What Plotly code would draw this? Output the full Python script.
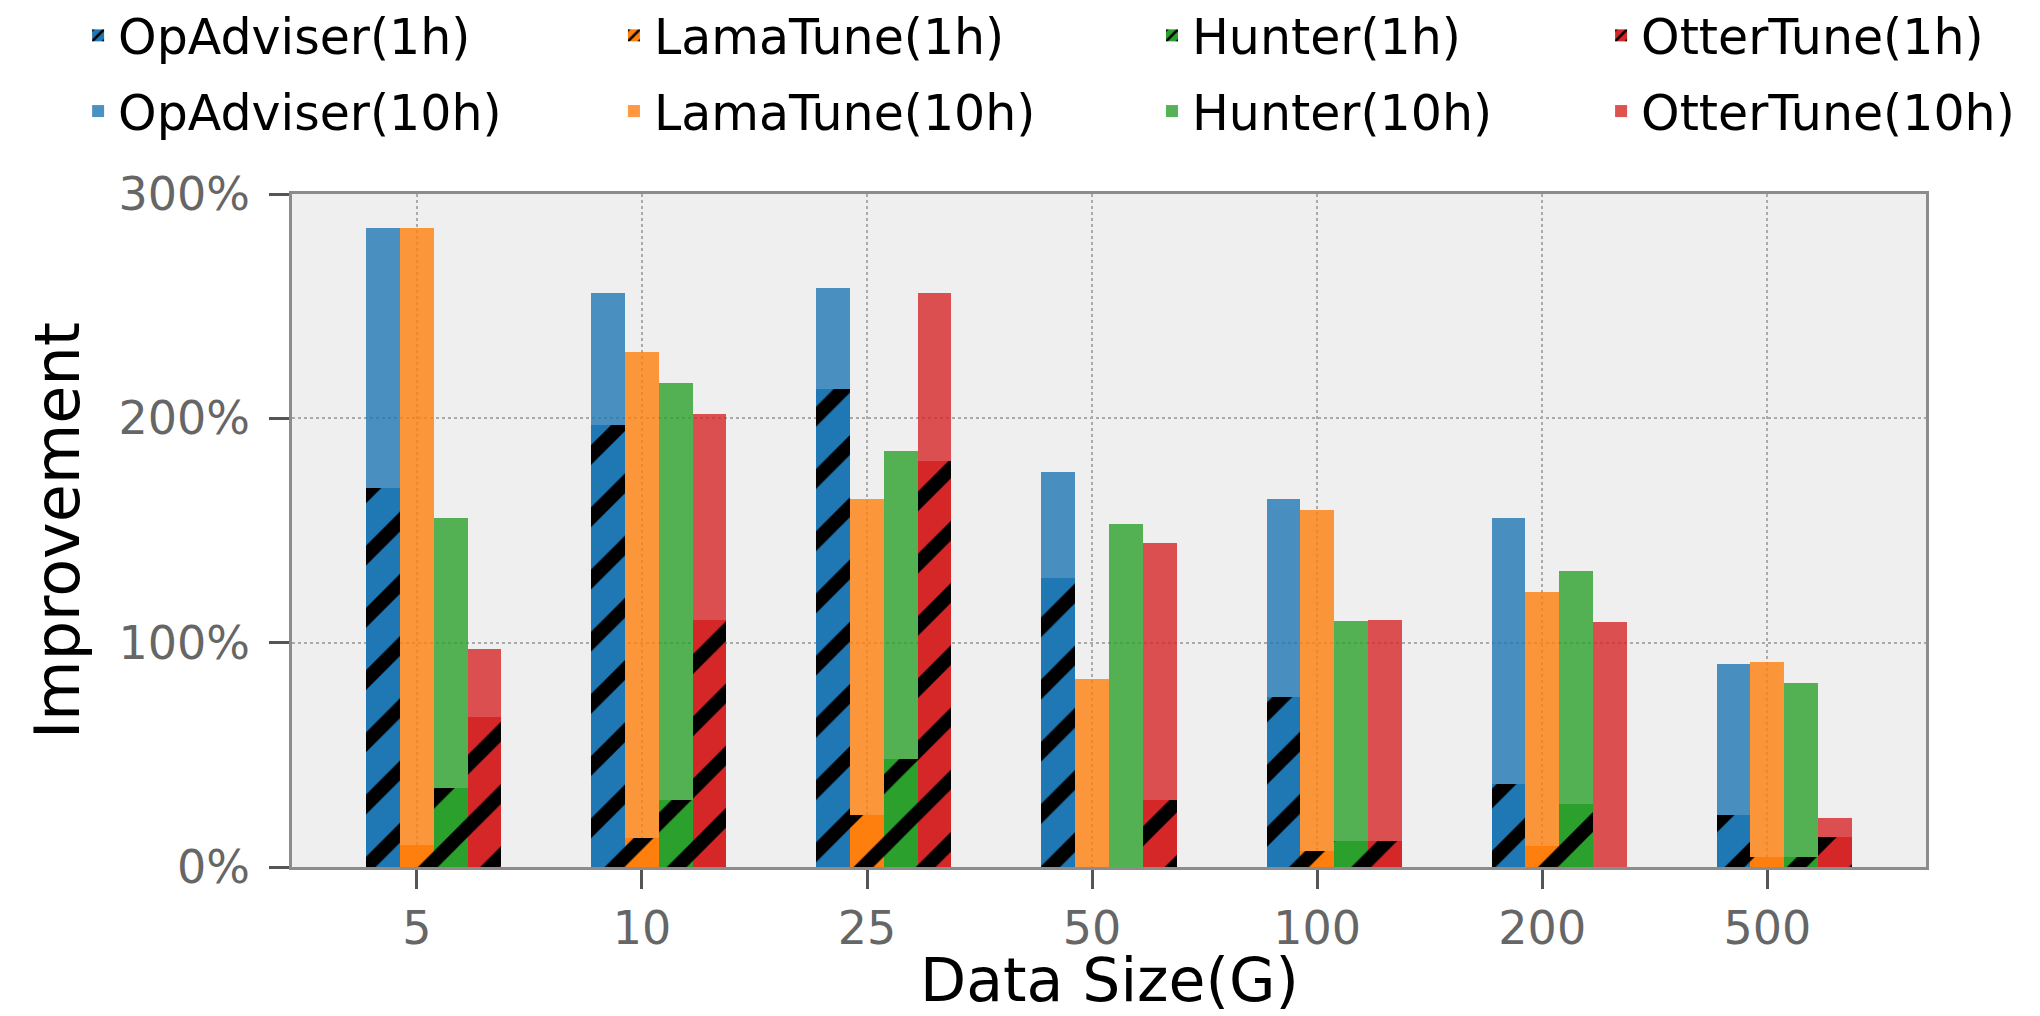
import plotly.graph_objects as go

# ---- data (percent improvement) ----
data_sizes = ["5", "10", "25", "50", "100", "200", "500"]
methods = ["OpAdviser", "LamaTune", "Hunter", "OtterTune"]
opadviser_1h = [169, 197, 213, 129, 76, 37, 23]
opadviser_10h = [285, 256, 258, 176, 164, 155.5, 90.5]
lamatune_1h = [10, 13, 23, 0, 7, 9.5, 4.5]
lamatune_10h = [285, 229.5, 164, 84, 159, 122.7, 91.4]
hunter_1h = [35, 30, 48, 0, 11.7, 28, 4.5]
hunter_10h = [155.7, 215.7, 185.5, 152.7, 109.5, 132, 82]
ottertune_1h = [67, 110, 181, 30, 11.7, 0, 13.4]
ottertune_10h = [97, 201.8, 256, 144.4, 110, 109, 22]
y_tick_vals = [0, 100, 200, 300]
y_tick_text = ["0%", "100%", "200%", "300%"]
x_title = "Data Size(G)"
y_title = "Improvement"

series_1h = [opadviser_1h, lamatune_1h, hunter_1h, ottertune_1h]
series_10h = [opadviser_10h, lamatune_10h, hunter_10h, ottertune_10h]

# ---- style ----
colors = ["#1f77b4", "#ff7f0e", "#2ca02c", "#d62728"]
offsets = [-0.15, 0.0, 0.15, 0.3]
bar_w = 0.15
FONT = "DejaVu Sans"
W, H = 2032, 1008
legend_names = ["legend", "legend2", "legend3", "legend4"]
legend_x = [0.0345, 0.2982, 0.5630, 0.7840]

fig = go.Figure()
base = list(range(len(data_sizes)))
for k, m in enumerate(methods):
    xs = [b + offsets[k] for b in base]
    fig.add_trace(go.Bar(
        x=xs, y=series_10h[k], width=bar_w, name=f"{m}(10h)",
        marker=dict(color=colors[k], line=dict(width=0)), opacity=0.8,
        legend=legend_names[k], legendgroup=f"{m}10", legendrank=2,
        hovertemplate="%{y}%<extra></extra>",
    ))
    fig.add_trace(go.Bar(
        x=xs, y=series_1h[k], width=bar_w, name=f"{m}(1h)",
        marker=dict(color=colors[k], line=dict(width=0),
                    pattern=dict(shape="/", fgcolor="black", fgopacity=1,
                                 size=44, solidity=0.32, fillmode="overlay")),
        legend=legend_names[k], legendgroup=f"{m}1", legendrank=1,
        hovertemplate="%{y}%<extra></extra>",
    ))

legend_common = dict(
    xref="container", yref="paper", xanchor="left", yanchor="top",
    y=1.2927, orientation="v", bgcolor="rgba(0,0,0,0)",
    font=dict(family=FONT, size=49, color="black"),
    tracegroupgap=9, traceorder="grouped",
)
layout_legends = {}
for k, ln in enumerate(legend_names):
    layout_legends[ln] = dict(x=legend_x[k], **legend_common)

fig.update_layout(
    width=W, height=H, autosize=False,
    margin=dict(l=284, r=114, t=186, b=149, pad=0, autoexpand=False),
    paper_bgcolor="white", plot_bgcolor="#EFEFEF",
    barmode="overlay", bargap=0,
    font=dict(family=FONT),
    showlegend=True,
    annotations=[
        dict(text=x_title, xref="paper", yref="paper", x=0.5, y=-0.1684,
             xanchor="center", yanchor="middle", showarrow=False,
             font=dict(family=FONT, size=60, color="black")),
        dict(text=y_title, xref="paper", yref="paper", x=-0.1435, y=0.5,
             xanchor="center", yanchor="middle", showarrow=False, textangle=-90,
             font=dict(family=FONT, size=62, color="black")),
    ],
    **layout_legends,
)

fig.update_xaxes(
    range=[-0.555, 6.705], tickmode="array", tickvals=base, ticktext=data_sizes,
    ticks="outside", ticklen=19, tickwidth=2.5, tickcolor="#555555",
    tickfont=dict(family=FONT, size=46, color="#666666"), ticklabelstandoff=0,
    showgrid=True, gridcolor="#AAAAAA", gridwidth=1.5, griddash="dot",
    showline=True, linecolor="#8C8C8C", linewidth=2.5, mirror=True,
    zeroline=False, automargin=False,
)
fig.update_yaxes(
    range=[0, 300], tickmode="array", tickvals=y_tick_vals, ticktext=y_tick_text,
    ticks="outside", ticklen=20, tickwidth=2.5, tickcolor="#555555",
    tickfont=dict(family=FONT, size=46, color="#666666"), ticklabelstandoff=10,
    showgrid=True, gridcolor="#AAAAAA", gridwidth=1.5, griddash="dot",
    showline=True, linecolor="#8C8C8C", linewidth=2.5, mirror=True,
    zeroline=False, automargin=False,
)

fig.write_html("out.html")
